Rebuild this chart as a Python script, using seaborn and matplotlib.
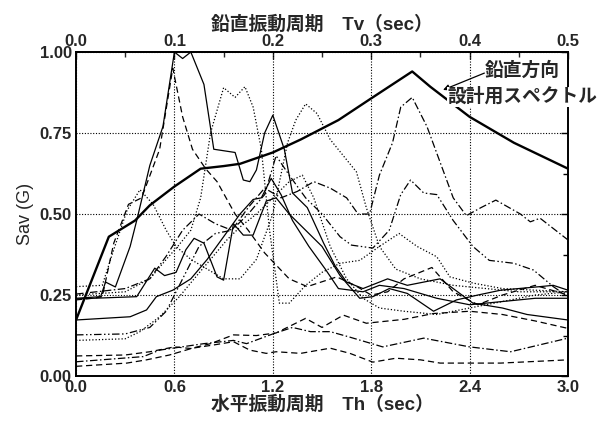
import matplotlib
matplotlib.use("Agg")
import matplotlib.pyplot as plt
from matplotlib.ticker import MultipleLocator, FormatStrFormatter
import seaborn as sns

# Vertical design spectrum (thick solid)
design_t = [0, 0.2, 0.36, 0.45, 0.6, 0.76, 0.9, 1.0, 1.2, 1.37, 1.6, 1.8, 2.05, 2.16, 2.4, 2.67, 3.0]
design_v = [0.173, 0.43, 0.48, 0.527, 0.585, 0.64, 0.648, 0.655, 0.69, 0.73, 0.79, 0.857, 0.94, 0.893, 0.80, 0.72, 0.64]

# Observed vertical response spectra
a_t = [0, 0.15, 0.18, 0.24, 0.33, 0.37, 0.45, 0.53, 0.6, 0.65, 0.7, 0.78, 0.84, 0.97, 1.02, 1.06, 1.1, 1.15, 1.2,
       1.27, 1.32, 1.41, 1.51, 1.58, 1.65, 1.75, 1.9, 2.02, 2.22, 2.42, 2.6, 2.75, 3.0]
a_v = [0.24, 0.245, 0.29, 0.275, 0.40, 0.48, 0.65, 0.77, 1.0, 0.98, 1.0, 0.90, 0.70, 0.69, 0.605, 0.60, 0.636, 0.75,
       0.805, 0.70, 0.565, 0.52, 0.41, 0.34, 0.29, 0.27, 0.30, 0.28, 0.30, 0.225, 0.21, 0.19, 0.173]

b_t = [0, 0.37, 0.48, 0.54, 0.61, 0.67, 0.72, 0.78, 0.86, 0.9, 0.96, 1.02, 1.08, 1.16, 1.22, 1.3, 1.4, 1.5, 1.61,
       1.73, 1.81, 1.91, 2.02, 2.18, 2.32, 2.45, 2.59, 2.83, 2.91, 3.0]
b_v = [0.238, 0.245, 0.333, 0.31, 0.32, 0.39, 0.425, 0.41, 0.306, 0.296, 0.47, 0.435, 0.435, 0.54, 0.55, 0.50, 0.45,
       0.40, 0.31, 0.24, 0.245, 0.27, 0.255, 0.20, 0.235, 0.25, 0.265, 0.276, 0.28, 0.265]

f_t = [0, 0.33, 0.43, 0.49, 0.59, 0.7, 0.8, 0.9, 1.0, 1.08, 1.13, 1.19, 1.25, 1.32, 1.42, 1.52, 1.6, 1.75, 1.85,
       2.0, 2.2, 2.4, 2.6, 2.8, 3.0]
f_v = [0.173, 0.183, 0.204, 0.245, 0.265, 0.30, 0.36, 0.43, 0.50, 0.545, 0.55, 0.61, 0.56, 0.48, 0.40, 0.33, 0.27,
       0.26, 0.28, 0.27, 0.24, 0.22, 0.23, 0.24, 0.24]

c_t = [0, 0.1, 0.16, 0.23, 0.32, 0.4, 0.51, 0.59, 0.65, 0.71, 0.79, 0.86, 0.97, 1.05, 1.15, 1.3, 1.41, 1.59, 1.7,
       1.8, 1.9, 2.0, 2.17, 2.3, 2.45, 2.6, 2.8, 3.0]
c_v = [0.235, 0.24, 0.245, 0.41, 0.53, 0.55, 0.70, 0.95, 0.80, 0.70, 0.64, 0.60, 0.50, 0.45, 0.38, 0.30, 0.276,
       0.306, 0.28, 0.25, 0.26, 0.30, 0.335, 0.26, 0.22, 0.25, 0.28, 0.25]

d_t = [0, 0.3, 0.45, 0.55, 0.62, 0.7, 0.76, 0.82, 0.9, 0.97, 1.03, 1.08, 1.13, 1.18, 1.24, 1.3, 1.4, 1.5, 1.61,
       1.73, 1.85, 1.97, 2.08, 2.2, 2.28, 2.42, 2.6, 2.8, 3.0]
d_v = [0.25, 0.26, 0.30, 0.36, 0.40, 0.45, 0.55, 0.75, 0.89, 0.86, 0.893, 0.83, 0.70, 0.45, 0.225, 0.225, 0.28,
       0.32, 0.348, 0.357, 0.40, 0.44, 0.40, 0.368, 0.306, 0.287, 0.27, 0.265, 0.26]

i_t = [0, 0.3, 0.45, 0.55, 0.65, 0.75, 0.85, 0.95, 1.05, 1.15, 1.25, 1.35, 1.45, 1.55, 1.65, 1.72, 1.79, 1.85,
       1.93, 1.98, 2.05, 2.14, 2.22, 2.3, 2.38, 2.47, 2.56, 2.71, 2.77, 2.83, 3.0]
i_v = [0.253, 0.27, 0.30, 0.37, 0.45, 0.50, 0.47, 0.45, 0.52, 0.58, 0.55, 0.57, 0.60, 0.58, 0.55, 0.50, 0.50, 0.62,
       0.72, 0.83, 0.86, 0.77, 0.66, 0.55, 0.495, 0.52, 0.543, 0.50, 0.476, 0.487, 0.42]

m_t = [0, 0.3, 0.45, 0.55, 0.65, 0.75, 0.85, 0.95, 1.05, 1.15, 1.22, 1.3, 1.4, 1.5, 1.61, 1.68, 1.81, 1.91, 1.98,
       2.04, 2.12, 2.2, 2.3, 2.42, 2.52, 2.67, 2.79, 2.91, 3.0]
m_v = [0.127, 0.13, 0.15, 0.2, 0.3, 0.40, 0.44, 0.45, 0.50, 0.56, 0.68, 0.62, 0.55, 0.50, 0.43, 0.404, 0.395, 0.45,
       0.56, 0.605, 0.565, 0.56, 0.48, 0.40, 0.357, 0.348, 0.327, 0.276, 0.245]

k_t = [0, 0.16, 0.23, 0.31, 0.39, 0.47, 0.55, 0.61, 0.7, 0.8, 0.9, 1.0, 1.1, 1.2, 1.29, 1.34, 1.40, 1.47, 1.55,
       1.63, 1.71, 1.77, 1.85, 1.95, 2.1, 2.3, 2.5, 2.7, 3.0]
k_v = [0.276, 0.28, 0.39, 0.51, 0.575, 0.53, 0.45, 0.40, 0.36, 0.33, 0.30, 0.30, 0.36, 0.50, 0.72, 0.79, 0.84, 0.81,
       0.73, 0.68, 0.63, 0.52, 0.40, 0.33, 0.30, 0.28, 0.27, 0.26, 0.26]

q_t = [0, 0.3, 0.39, 0.51, 0.63, 0.72, 0.82, 0.92, 1.0, 1.1, 1.2, 1.3, 1.38, 1.45, 1.55, 1.65, 1.75, 1.85, 2.0,
       2.2, 2.4, 2.6, 2.8, 3.0]
q_v = [0.11, 0.115, 0.137, 0.183, 0.245, 0.30, 0.36, 0.42, 0.46, 0.50, 0.55, 0.60, 0.62, 0.55, 0.40, 0.30, 0.24,
       0.21, 0.20, 0.19, 0.21, 0.23, 0.25, 0.26]

p_t = [0, 0.3, 0.45, 0.6, 0.7, 0.82, 0.96, 1.1, 1.22, 1.4, 1.5, 1.63, 1.77, 2.0, 2.18, 2.4, 2.6, 2.8, 3.0]
p_v = [0.062, 0.065, 0.075, 0.09, 0.085, 0.10, 0.127, 0.125, 0.133, 0.178, 0.15, 0.188, 0.163, 0.175, 0.193,
       0.20, 0.19, 0.17, 0.147]

o_t = [0, 0.41, 0.51, 0.59, 0.78, 0.96, 1.04, 1.2, 1.32, 1.43, 1.55, 1.67, 1.87, 2.12, 2.4, 2.65, 3.0]
o_v = [0.044, 0.06, 0.08, 0.086, 0.10, 0.11, 0.10, 0.13, 0.15, 0.137, 0.137, 0.12, 0.09, 0.117, 0.09, 0.075, 0.117]

n_t = [0, 0.31, 0.43, 0.57, 0.71, 0.84, 0.96, 1.06, 1.16, 1.22, 1.37, 1.55, 1.67, 1.81, 1.95, 2.1, 2.22, 2.59, 3.0]
n_v = [0.03, 0.04, 0.05, 0.065, 0.086, 0.096, 0.106, 0.08, 0.07, 0.075, 0.07, 0.086, 0.07, 0.043, 0.055, 0.05,
       0.04, 0.04, 0.05]

DOT = (0, (1, 1.6))
DASH = (0, (5, 3))
DASHDOT = (0, (6, 2, 1.2, 2))
DASHDOTDOT = (0, (6, 2, 1.2, 2, 1.2, 2))
SOLID = "-"

records = [
    (a_t, a_v, SOLID), (b_t, b_v, SOLID), (f_t, f_v, SOLID),
    (c_t, c_v, DASH), (d_t, d_v, DOT), (i_t, i_v, DASHDOT),
    (m_t, m_v, DASHDOTDOT), (k_t, k_v, DOT), (q_t, q_v, DOT),
    (p_t, p_v, DASH), (o_t, o_v, DASHDOT), (n_t, n_v, DASH),
]

sns.set_style("white")
plt.rcParams["font.family"] = ["Liberation Sans", "Noto Sans CJK JP", "DejaVu Sans"]
plt.rcParams["axes.unicode_minus"] = False

fig = plt.figure(figsize=(6.01, 4.23), dpi=100)
ax = fig.add_axes([0.1265, 0.111, 0.8186, 0.766])

for t, v, ls in records:
    sns.lineplot(x=t, y=v, ax=ax, color="black", lw=0.9, linestyle=ls, sort=False)

sns.lineplot(x=design_t, y=design_v, ax=ax, color="black", lw=1.7, sort=False)

ax.set_xlim(0, 3.0)
ax.set_ylim(0, 1.0)
ax.xaxis.set_major_locator(MultipleLocator(0.6))
ax.xaxis.set_minor_locator(MultipleLocator(0.3))
ax.yaxis.set_major_locator(MultipleLocator(0.25))
ax.yaxis.set_minor_locator(MultipleLocator(0.125))
ax.xaxis.set_major_formatter(FormatStrFormatter("%.1f"))
ax.yaxis.set_major_formatter(FormatStrFormatter("%.2f"))
ax.grid(True, which="major", color="black", linestyle=(0, (1, 1.5)), lw=0.8)

tick_font = dict(fontsize=12, fontweight="bold")
ax.tick_params(which="both", direction="in", right=True, color="black")
ax.tick_params(which="major", length=5, width=1.0, labelsize=12, pad=3)
ax.tick_params(which="minor", length=3.5, width=1.0)
for lab in ax.get_xticklabels() + ax.get_yticklabels():
    lab.set_fontweight("bold")

for s in ax.spines.values():
    s.set_visible(True)
    s.set_color("black")
    s.set_linewidth(1.4)

secax = ax.secondary_xaxis("top", functions=(lambda x: x / 6.0, lambda x: x * 6.0))
secax.xaxis.set_major_locator(MultipleLocator(0.1))
secax.xaxis.set_minor_locator(MultipleLocator(0.05))
secax.xaxis.set_major_formatter(FormatStrFormatter("%.1f"))
secax.tick_params(which="both", direction="in")
secax.tick_params(which="major", length=5, width=1.0, labelsize=12, pad=2)
secax.tick_params(which="minor", length=3.5, width=1.0)
for lab in secax.get_xticklabels():
    lab.set_fontweight("bold")
secax.spines["top"].set_linewidth(1.4)

label_font = dict(fontsize=13.5, fontweight="bold")
secax.set_xlabel("鉛直振動周期　Tv（sec）", labelpad=3, **label_font)
ax.set_xlabel("水平振動周期　Th（sec）", labelpad=0, **label_font)
ax.set_ylabel("Sav (G)", labelpad=4, fontsize=13)

ax.text(2.72, 0.944, "鉛直方向", ha="center", va="center", fontsize=13.5, fontweight="bold")
ax.text(2.725, 0.862, "設計用スペクトル", ha="center", va="center", fontsize=13.5, fontweight="bold",
        bbox=dict(facecolor="white", edgecolor="none", pad=0.5), zorder=5)
ax.annotate("", xy=(2.238, 0.883), xytext=(2.49, 0.935),
            arrowprops=dict(arrowstyle="-|>", color="black", lw=0.9, mutation_scale=9, shrinkA=0, shrinkB=0))

fig.savefig("out.png", dpi=100)
